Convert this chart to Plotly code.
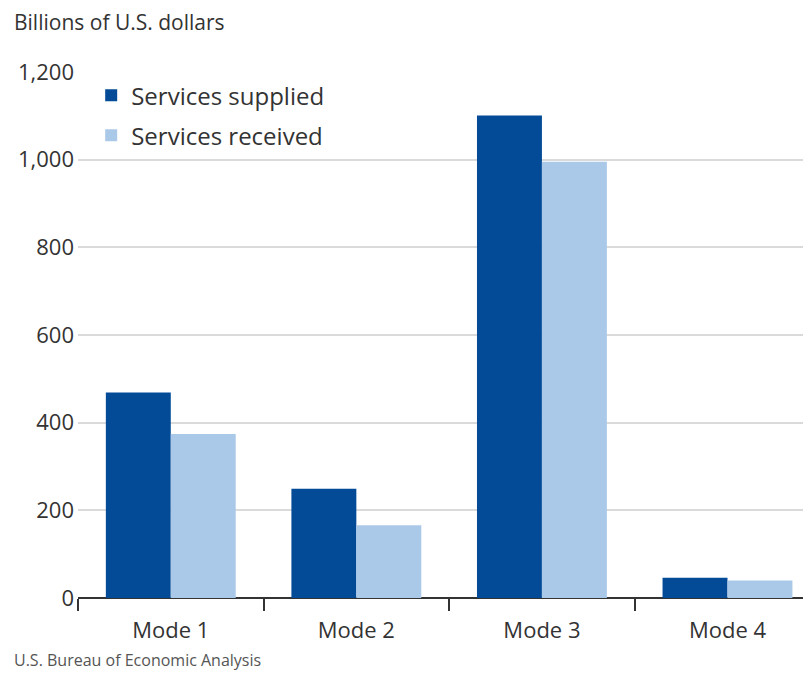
import plotly.graph_objects as go

categories = ["Mode 1", "Mode 2", "Mode 3", "Mode 4"]
supplied = [469, 249, 1101, 46]
received = [374, 166, 995, 40]
y_ticks = [0, 200, 400, 600, 800, 1000, 1200]

DARK = "#034b97"
LIGHT = "#aac9e9"
TEXT = "#333333"
FONT = "Open Sans"

# page body has an 8px margin; figure coords = screen coords - 8
PL, PT, PW, PH = 70, 64, 733, 526

fig = go.Figure()
fig.add_trace(go.Bar(x=categories, y=supplied, name="Services supplied",
                     legendgroup="a",
                     marker=dict(color=DARK, line=dict(width=0))))
fig.add_trace(go.Bar(x=categories, y=received, name="Services received",
                     legendgroup="b",
                     marker=dict(color=LIGHT, line=dict(width=0))))

fig.update_layout(
    width=803, height=665,
    margin=dict(l=PL, r=0, t=PT, b=665 - PT - PH),
    paper_bgcolor="white", plot_bgcolor="white",
    barmode="group", bargap=0.3, bargroupgap=0,
    font=dict(family=FONT, color=TEXT, size=21),
    legend=dict(x=0.018, y=0.998, xanchor="left", yanchor="top",
                font=dict(size=24, color=TEXT), bgcolor="rgba(0,0,0,0)",
                tracegroupgap=6, itemwidth=30),
    xaxis=dict(range=[-0.5, 3.45], showgrid=False, ticks="outside",
               tickson="boundaries", ticklen=12, tickwidth=2, tickcolor="#333333",
               showline=False, ticklabelstandoff=17,
               tickfont=dict(size=22, color=TEXT)),
    yaxis=dict(range=[0, 1200], tickvals=y_ticks, tickformat=",",
               showgrid=True, gridcolor="#dadada", gridwidth=2,
               zeroline=True, zerolinecolor="#333333", zerolinewidth=2,
               showline=False, ticks="", ticklabelstandoff=3,
               tickfont=dict(size=22, color=TEXT)),
    annotations=[
        dict(text="Billions of U.S. dollars", xref="paper", yref="paper",
             x=(4 - PL) / PW, y=1 + (PT - 14) / PH, xanchor="left", yanchor="middle",
             showarrow=False, font=dict(size=21, color=TEXT)),
        dict(text="U.S. Bureau of Economic Analysis", xref="paper", yref="paper",
             x=(4 - PL) / PW, y=-(652 - PT - PH) / PH, xanchor="left", yanchor="middle",
             showarrow=False, font=dict(size=16, color="#555555")),
    ],
)

fig.write_html("out.html")
